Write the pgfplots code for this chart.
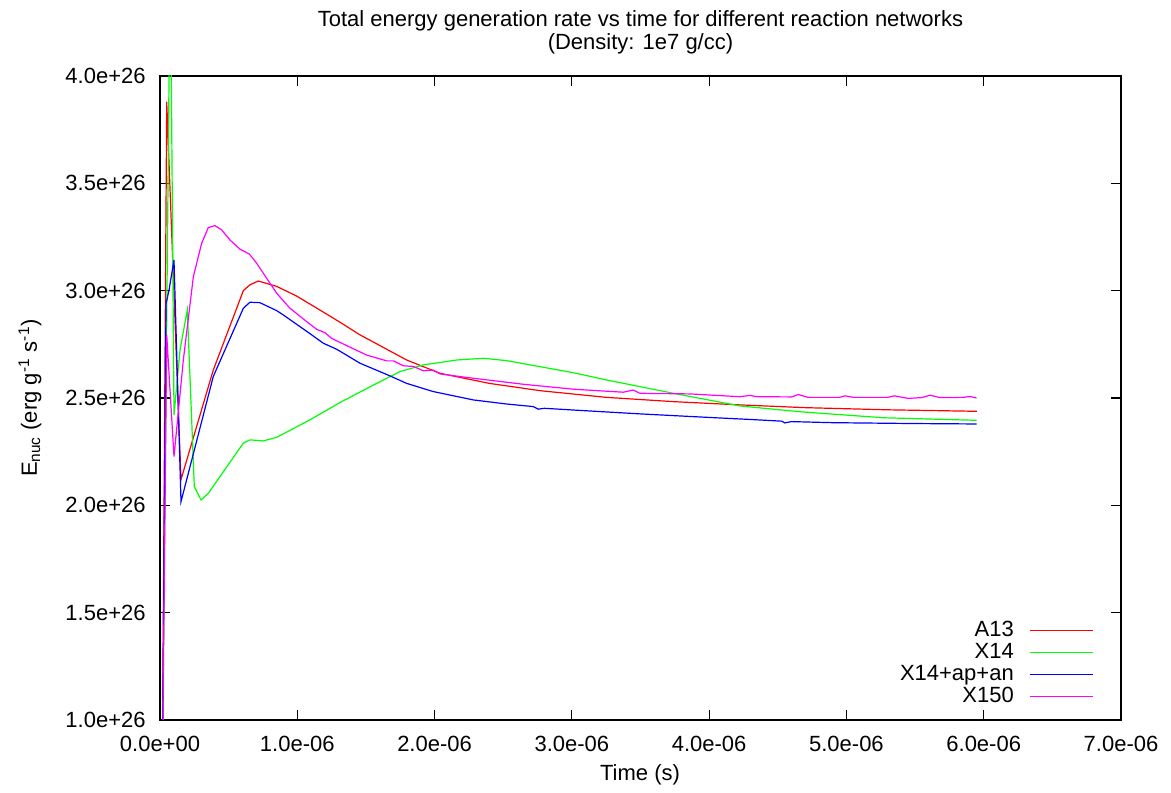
\documentclass[border=0pt]{standalone}
\usepackage{fontspec}
\setmainfont{Liberation Sans}
\usepackage{pgfplots}
\pgfplotsset{compat=1.18}
\definecolor{cRed}{RGB}{255,0,0}
\definecolor{cGreen}{RGB}{0,255,0}
\definecolor{cBlue}{RGB}{0,0,255}
\definecolor{cMag}{RGB}{255,0,255}

\begin{document}
\begin{tikzpicture}[font=\fontsize{11}{11.5}\selectfont]
\path[use as bounding box] (-80pt,-36pt) rectangle (505.5pt,360pt);
\begin{axis}[
  at={(0,0)}, anchor=south west,
  scale only axis, width=480.5pt, height=322pt,
  xmin=0, xmax=7, ymin=1, ymax=4,
  xtick={0,1,2,3,4,5,6,7},
  xticklabels={0.0e+00,1.0e-06,2.0e-06,3.0e-06,4.0e-06,5.0e-06,6.0e-06,7.0e-06},
  ytick={1,1.5,2,2.5,3,3.5,4},
  yticklabels={1.0e+26,1.5e+26,2.0e+26,2.5e+26,3.0e+26,3.5e+26,4.0e+26},
  tick align=inside, major tick length=5pt,
  every tick/.style={black, line width=0.6pt},
  axis line style={line width=1pt},
  every x tick label/.append style={inner sep=0pt, anchor=north, yshift=-8pt},
  every y tick label/.append style={inner sep=0pt, anchor=east, xshift=-7pt},
  title={Total energy generation rate vs time for different reaction networks\\(Density: 1e7 g/cc)},
  title style={at={(axis description cs:0.5,1.049)}, anchor=center, align=center, inner sep=0pt},
  xlabel={Time (s)},
  xlabel style={at={(axis description cs:0.4995,-0.0855)}, anchor=center, inner sep=0pt},
  ylabel={E\textsubscript{nuc} (erg g\textsuperscript{-1} s\textsuperscript{-1})},
  ylabel style={at={(axis description cs:-0.1353,0.5)}, anchor=center, rotate=0, inner sep=0pt},
  legend plot pos=right,
  legend cell align=right,
  legend image code/.code={\draw[#1, line width=0.9pt] (0pt,0.5pt) -- (31.5pt,0.5pt);},
  legend style={at={(axis description cs:0.9719,0.0171)}, anchor=south east, draw=none, fill=none,
    inner sep=0pt, column sep=7.5pt, row sep=0pt,
    nodes={inner sep=0pt, text height=8pt, text depth=3pt}},
  every axis plot/.append style={line width=0.6pt},
]
\addplot[cRed] coordinates {
(0.015,0.6) (0.049,3.88) (0.153,2.12) (0.388,2.63) (0.607,3.0) (0.655,3.027) (0.716,3.045)
(0.85,3.02) (0.995,2.975) (1.19,2.90) (1.311,2.853) (1.457,2.794) (1.797,2.677) (2.04,2.615)
(2.40,2.568) (2.77,2.534) (3.25,2.503) (3.74,2.483) (4.22,2.468) (4.7,2.455) (5.3,2.445) (5.95,2.438)
};
\addlegendentry{A13}
\addplot[cGreen] coordinates {
(0.015,0.6) (0.075,4.6) (0.102,2.42) (0.146,2.724) (0.199,2.91) (0.25,2.087) (0.299,2.025)
(0.352,2.056) (0.607,2.29) (0.655,2.305) (0.752,2.30) (0.85,2.317) (1.092,2.398) (1.311,2.479)
(1.554,2.56) (1.748,2.623) (1.918,2.654) (2.161,2.677) (2.355,2.685) (2.525,2.674) (3.01,2.618)
(3.253,2.584) (3.739,2.522) (4.224,2.463) (4.66,2.436) (5.268,2.408) (5.948,2.396)
};
\addlegendentry{X14}
\addplot[cBlue] coordinates {
(0.015,0.6) (0.044,2.94) (0.065,3.0) (0.102,3.143) (0.153,2.017) (0.388,2.60) (0.607,2.918)
(0.655,2.946) (0.728,2.944) (0.85,2.907) (0.898,2.887) (1.092,2.80) (1.19,2.755) (1.287,2.727)
(1.384,2.69) (1.457,2.662) (1.675,2.603) (1.797,2.568) (1.99,2.53) (2.282,2.491) (2.525,2.472)
(2.719,2.46) (2.755,2.448) (2.80,2.452) (3.01,2.444) (3.496,2.426) (3.982,2.41) (4.3,2.400)
(4.53,2.392) (4.55,2.384) (4.6,2.39) (4.9,2.385) (5.5,2.381) (5.948,2.379)
};
\addlegendentry{X14+ap+an}
\addplot[cMag] coordinates {
(0.015,0.6) (0.049,2.794) (0.102,2.227) (0.17,2.677) (0.243,3.065) (0.303,3.22) (0.352,3.294)
(0.40,3.303) (0.449,3.283) (0.51,3.236) (0.583,3.193) (0.65,3.171) (0.704,3.128) (0.777,3.058)
(0.85,2.988) (0.947,2.918) (1.068,2.856) (1.141,2.82) (1.202,2.804) (1.25,2.778) (1.311,2.759)
(1.505,2.70) (1.651,2.673) (1.70,2.673) (1.772,2.65) (1.845,2.647) (1.918,2.627) (1.99,2.63)
(2.04,2.612) (2.282,2.592) (2.646,2.564) (3.01,2.541) (3.374,2.527) (3.447,2.537) (3.496,2.522)
(3.86,2.519) (4.224,2.506) (4.297,2.512) (4.35,2.506) (4.6,2.505) (4.65,2.516) (4.72,2.503)
(4.95,2.503) (4.99,2.51) (5.05,2.503) (5.3,2.503) (5.35,2.51) (5.45,2.498) (5.55,2.502)
(5.61,2.513) (5.68,2.502) (5.85,2.503) (5.9,2.507) (5.948,2.50)
};
\addlegendentry{X150}
\end{axis}
\end{tikzpicture}
\end{document}
